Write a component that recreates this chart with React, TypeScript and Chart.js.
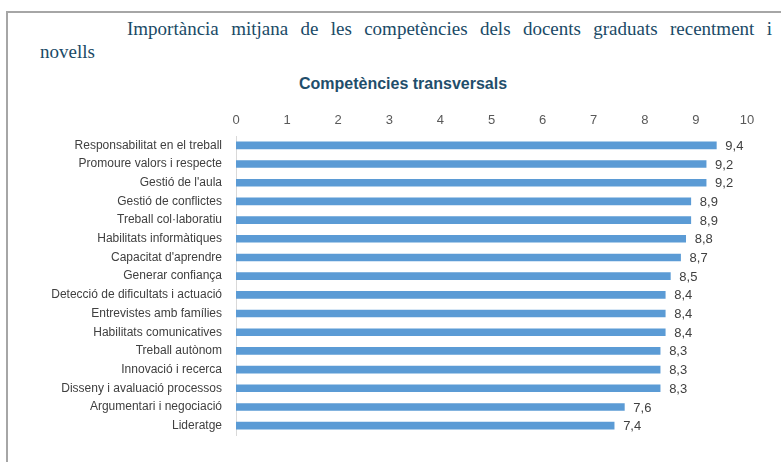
import React, { useEffect, useRef } from "react";
import { Chart, registerables } from "chart.js";

Chart.register(...registerables);

const titleLine1 = "Importància mitjana de les competències dels docents graduats recentment i";
const titleLine2 = "novells";
const subtitle = "Competències transversals";

const categories = [
  "Responsabilitat en el treball",
  "Promoure valors i respecte",
  "Gestió de l'aula",
  "Gestió de conflictes",
  "Treball col·laboratiu",
  "Habilitats informàtiques",
  "Capacitat d'aprendre",
  "Generar confiança",
  "Detecció de dificultats i actuació",
  "Entrevistes amb famílies",
  "Habilitats comunicatives",
  "Treball autònom",
  "Innovació i recerca",
  "Disseny i avaluació processos",
  "Argumentari i negociació",
  "Lideratge",
];

const values = [9.4, 9.2, 9.2, 8.9, 8.9, 8.8, 8.7, 8.5, 8.4, 8.4, 8.4, 8.3, 8.3, 8.3, 7.6, 7.4];

const xTicks = [0, 1, 2, 3, 4, 5, 6, 7, 8, 9, 10];

const labelFont = "'Liberation Sans', Arial, sans-serif";

const valueLabels = {
  id: "valueLabels",
  afterDatasetsDraw(chart: any) {
    const ctx = chart.ctx;
    const meta = chart.getDatasetMeta(0);
    ctx.save();
    ctx.font = "13px " + labelFont;
    ctx.fillStyle = "#404040";
    ctx.textAlign = "left";
    ctx.textBaseline = "middle";
    meta.data.forEach((bar: any, i: number) => {
      const txt = values[i].toFixed(1).replace(".", ",");
      ctx.fillText(txt, bar.x + 9, bar.y + 1);
    });
    ctx.restore();
  },
};

export default function App() {
  const canvasRef = useRef<HTMLCanvasElement | null>(null);

  useEffect(() => {
    if (!canvasRef.current) return;
    const chart = new Chart(canvasRef.current, {
      type: "bar",
      data: {
        labels: categories,
        datasets: [
          {
            data: values,
            backgroundColor: "#5b9bd5",
            borderWidth: 0,
            barThickness: 7,
          },
        ],
      },
      options: {
        indexAxis: "y",
        animation: false,
        responsive: false,
        maintainAspectRatio: false,
        layout: { padding: { top: 108, bottom: 27, left: 0, right: 34 } },
        plugins: {
          legend: { display: false },
          tooltip: { enabled: false },
        },
        scales: {
          x: {
            position: "top",
            min: 0,
            max: 10,
            afterBuildTicks(scale: any) {
              scale.ticks = xTicks.map((v) => ({ value: v }));
            },
            afterFit(scale: any) {
              scale.height = 28;
            },
            grid: { display: false },
            border: { display: false },
            ticks: {
              color: "#595959",
              font: { size: 13, family: labelFont },
              padding: 0,
              maxRotation: 0,
            },
          },
          y: {
            afterFit(scale: any) {
              scale.width = 236;
            },
            grid: { display: false },
            border: { display: true, color: "#d9d9d9", width: 1 },
            ticks: {
              color: "#404040",
              font: { size: 12, family: labelFont },
              padding: 6,
              autoSkip: false,
            },
          },
        },
      },
      plugins: [valueLabels],
    });
    return () => chart.destroy();
  }, []);

  return (
    <div
      style={{
        position: "fixed",
        left: 0,
        top: 0,
        width: 781,
        height: 462,
        background: "#ffffff",
        overflow: "hidden",
      }}
    >
      <div
        style={{
          position: "absolute",
          left: 6,
          top: 11,
          width: 800,
          height: 500,
          borderLeft: "2px solid #a6a6a6",
          borderTop: "2px solid #a6a6a6",
        }}
      />
      <div
        style={{
          position: "absolute",
          left: 127,
          top: 18,
          width: 645,
          fontFamily: "'Liberation Serif', 'DejaVu Serif', serif",
          fontSize: 19,
          color: "#1a4a66",
          textAlign: "justify",
          textAlignLast: "justify" as any,
          whiteSpace: "nowrap",
          lineHeight: "22px",
        }}
      >
        {titleLine1}
      </div>
      <div
        style={{
          position: "absolute",
          left: 40,
          top: 41,
          fontFamily: "'Liberation Serif', 'DejaVu Serif', serif",
          fontSize: 19,
          color: "#1a4a66",
          lineHeight: "22px",
        }}
      >
        {titleLine2}
      </div>
      <div
        style={{
          position: "absolute",
          left: 253,
          top: 74,
          width: 300,
          textAlign: "center",
          fontFamily: "'Liberation Sans', Arial, sans-serif",
          fontWeight: "bold",
          fontSize: 16,
          color: "#1f4e6b",
          lineHeight: "20px",
        }}
      >
        {subtitle}
      </div>
      <canvas
        ref={canvasRef}
        width={781}
        height={462}
        style={{ position: "absolute", left: 0, top: 0, width: 781, height: 462 }}
      />
    </div>
  );
}
